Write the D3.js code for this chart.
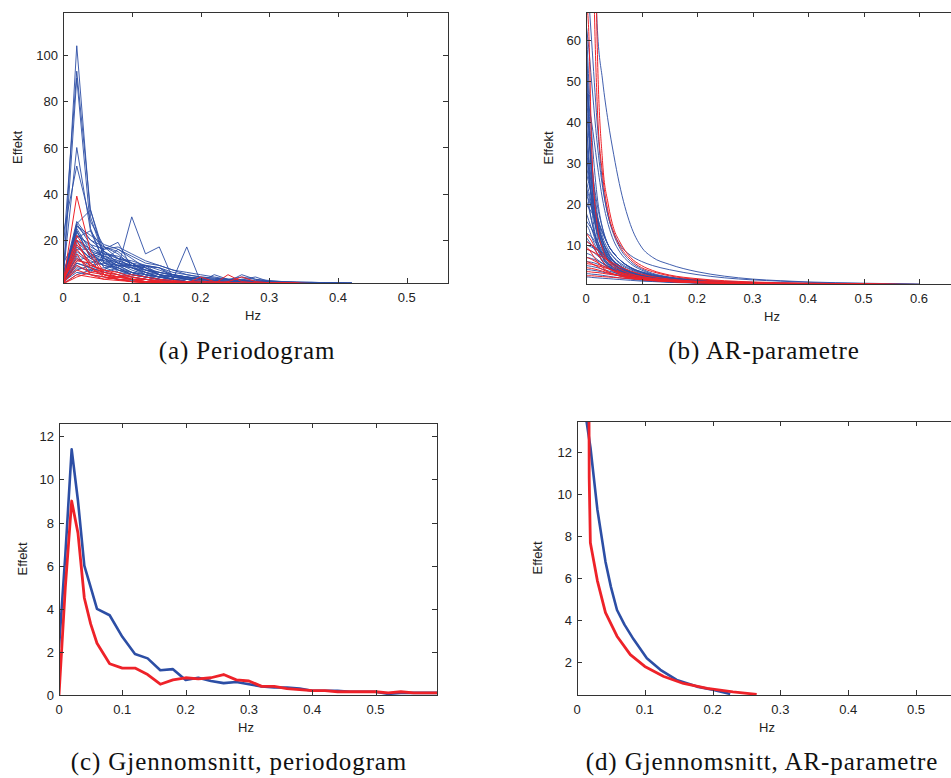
<!DOCTYPE html>
<html lang="no">
<head>
  <meta charset="UTF-8">
  <title>Periodogram og AR-parametre</title>
  <script src="https://d3js.org/d3.v7.min.js"></script>
  <style>
    body { margin: 0; background: #fff; }
    svg { display: block; }
    .tick-label { font-family: "Liberation Sans", Arial, sans-serif; font-size: 13px; fill: #222; }
    .axis-title { font-family: "Liberation Sans", Arial, sans-serif; font-size: 13px; fill: #222; }
    .caption { font-family: "Liberation Serif", "Times New Roman", serif; font-size: 25px; letter-spacing: 0.9px; fill: #111; }
  </style>
</head>
<body>
<svg width="951" height="778"></svg>
<script>
// ---------- (a) Periodogram: frekvensgitter og kurver ----------
const freqA = [0, 0.02, 0.04, 0.06, 0.08, 0.10, 0.12, 0.14, 0.16, 0.18, 0.20,
               0.22, 0.24, 0.26, 0.28, 0.30, 0.32, 0.34, 0.36, 0.38, 0.40, 0.42];

const periodBlue = [
  [2, 104, 30, 12, 6, 4, 3, 2, 2, 1.5, 1.5, 1.2, 1, 1, 0.8, 0.6, 0.5, 0.5, 0.4, 0.3, 0.3, 0.2],
  [14, 93, 33, 14, 8, 5, 4, 3, 2, 2, 1.5, 1.2, 1, 0.8, 0.6, 0.5, 0.4, 0.3, 0.3, 0.2, 0.2, 0.1],
  [1, 90, 25, 10, 9, 6, 4, 3, 2, 2, 1, 1, 1, 1, 0.8, 0.6, 0.5, 0.4, 0.3, 0.3, 0.2, 0.2],
  [4, 60, 24, 15, 10, 7, 5, 4, 3, 2, 1.5, 1, 1, 1, 0.8, 0.6, 0.5, 0.4, 0.3, 0.2, 0.2, 0.1],
  [22, 52, 28, 17, 12, 8, 6, 4, 3, 2, 1.5, 1.2, 1, 0.8, 0.6, 0.5, 0.4, 0.3, 0.3, 0.2, 0.2, 0.1],
  [1, 10, 8, 6, 8, 30, 14, 17, 3, 17, 2, 1.5, 1, 1, 0.8, 0.6, 0.5, 0.4, 0.3, 0.2, 0.2, 0.1],
  [2, 27, 33, 12, 7, 5, 4, 3, 2, 2, 1.5, 1, 1, 0.8, 0.6, 0.5, 0.4, 0.3, 0.2, 0.2, 0.1, 0.1],
  [3, 27, 18, 16, 19, 8, 6, 4, 3, 2, 2, 1.5, 1.2, 1, 0.8, 0.6, 0.5, 0.4, 0.3, 0.2, 0.2, 0.1],
  [1, 26, 20, 17, 14, 9, 9, 5, 3, 2, 2, 5, 3, 2, 1.8, 1.6, 1.5, 1.5, 1.4, 1.3, 1.2, 1.1],
  [2, 25, 15, 13, 10, 9, 8, 5, 4, 3, 2, 1.5, 2, 5, 3, 2, 1.5, 1.6, 1.5, 1.5, 1.4, 1.3],
  [5, 24, 12, 15, 12, 10, 7, 5, 4, 4, 3, 2, 1.5, 1.2, 1, 0.8, 0.6, 0.5, 0.4, 0.3, 0.2, 0.2],
  [2, 22, 18, 12, 9, 8, 5, 4, 3, 3, 2, 2, 1.5, 1.2, 1, 1, 0.8, 0.6, 0.5, 0.4, 0.3, 1.5],
  [10, 20, 14, 10, 8, 6, 5, 4, 3, 2, 2, 1.5, 1.2, 1, 0.8, 0.6, 0.5, 0.4, 0.3, 0.2, 0.2, 0.1],
  [3, 18, 12, 9, 8, 5, 4, 3, 3, 2, 1.5, 1.2, 1, 0.8, 0.6, 0.5, 0.4, 0.3, 0.2, 0.2, 0.1, 0.1],
  [2, 16, 16, 8, 6, 5, 4, 3, 2, 1.5, 1.2, 1, 0.8, 0.6, 0.5, 0.4, 0.3, 0.2, 0.2, 0.1, 0.1, 0.1],
  [1, 14, 10, 12, 9, 6, 4, 3, 2, 2, 1.5, 1, 0.8, 0.6, 0.5, 0.4, 0.3, 0.2, 0.2, 0.1, 0.1, 0.1],
  [4, 12, 9, 7, 11, 9, 5, 3, 2, 2, 1.5, 1.2, 1, 0.8, 0.6, 0.5, 0.4, 0.3, 0.2, 0.2, 0.1, 0.1],
  [2, 10, 8, 6, 5, 4, 3, 2.5, 2, 1.5, 1.2, 1, 0.8, 0.6, 0.5, 0.4, 0.3, 0.2, 0.2, 0.1, 0.1, 0.1],
  [1, 8, 7, 5, 4, 3, 3, 2, 2, 1.5, 1.2, 1, 0.8, 0.6, 0.5, 0.4, 0.3, 0.2, 0.2, 0.1, 0.1, 0.1],
  [2, 6, 5, 4, 3, 2.5, 2, 2, 1.5, 1.2, 1, 0.8, 0.6, 0.5, 0.4, 0.3, 0.2, 0.2, 0.1, 0.1, 0.1, 0.1],
  [1, 13, 7, 17, 15, 10, 7, 5, 3, 2, 1.5, 1.2, 1, 0.8, 0.6, 0.5, 0.4, 0.3, 0.2, 0.2, 0.1, 0.1],
  [3, 21, 24, 10, 7, 6, 5, 4, 5, 3, 2, 1.5, 1.2, 1, 0.8, 0.6, 0.5, 0.4, 0.3, 0.2, 0.2, 0.1],
  [2, 15, 11, 9, 7, 5, 9, 8, 4, 3, 2.5, 2, 1.5, 3, 4, 2, 1.5, 1.6, 1.8, 1.5, 1.4, 1.3],
  [1, 24, 13, 11, 16, 12, 8, 5, 4, 3, 2, 1.5, 1.2, 1, 0.8, 0.6, 0.5, 0.4, 0.3, 0.2, 0.2, 0.1],
  [2, 9, 6, 14, 13, 10, 6, 4, 3, 2, 1.5, 1.2, 1, 0.8, 0.6, 0.5, 0.4, 0.3, 0.2, 0.2, 0.1, 0.1],
  [2, 19, 14, 12, 10, 8, 6, 5, 4, 3.5, 3, 2.5, 2.2, 2, 2, 1.8, 1.7, 1.6, 1.5, 1.5, 1.4, 1.4],
  [1, 17, 12, 11, 9, 8, 7, 6, 5, 4, 3.5, 3, 2.8, 2.5, 2.2, 2, 1.8, 1.6, 1.5, 1.5, 1.3, 1.2],
  [3, 23, 17, 14, 12, 10, 9, 8, 6, 5, 4, 3.5, 3, 2.6, 2.2, 2, 1.8, 1.7, 1.6, 1.5, 1.4, 1.3],
  [2, 11, 13, 16, 17, 14, 11, 9, 7, 5, 4, 3.5, 3, 4, 3, 2.5, 2, 1.8, 1.6, 1.5, 1.4, 1.3],
  [1, 26, 22, 18, 16, 13, 10, 9, 7, 6, 5, 4, 3, 2.5, 2, 1.8, 1.6, 1.5, 1.5, 1.4, 1.3, 1.2],
  [2, 7, 9, 10, 12, 11, 9, 7, 5, 4, 3, 2.5, 2, 1.8, 1.6, 1.5, 1.5, 1.4, 1.3, 1.2, 1.1, 1],
  [4, 28, 20, 15, 10, 9, 8.5, 8, 5, 4, 3, 2.5, 2.2, 2, 1.8, 1.7, 1.6, 1.5, 1.4, 1.3, 1.2, 1.1],
  [1, 5, 7, 8, 9, 9, 8, 6, 4.5, 3.5, 3, 2.5, 2, 1.8, 1.6, 1.5, 1.4, 1.3, 1.2, 1.1, 1, 1],
  [6, 20, 16, 13, 11, 9, 7, 6, 5, 4, 3.5, 3, 2.5, 3, 2.5, 2.2, 2, 1.8, 1.6, 1.5, 1.4, 1.3]
];

const periodRed = [
  [1, 39, 15, 6, 4, 3, 2, 2, 1.5, 1.2, 1, 0.8, 0.6, 0.5, 0.4, 0.3, 0.2, 0.2, 0.1, 0.1, 0.1, 0.1],
  [2, 22, 13, 5, 3, 2, 2, 1.5, 1.2, 1, 0.8, 0.6, 0.5, 0.4, 0.3, 0.2, 0.2, 0.1, 0.1, 0.1, 0.1, 0.1],
  [1, 18, 10, 6, 5, 3, 3, 2, 1.5, 1.2, 4, 2, 1.5, 1, 0.8, 0.6, 0.5, 0.4, 0.3, 0.2, 0.1, 0.1],
  [3, 12, 8, 5, 4, 4, 3, 2, 2, 1.5, 1.2, 1, 5, 2, 1.5, 1, 0.8, 0.5, 0.4, 0.3, 0.2, 0.1],
  [1, 9, 6, 7, 5, 3, 2, 2, 1.5, 1.2, 1, 1.5, 2, 4, 2, 1.5, 1.6, 1.5, 0.5, 0.3, 0.2, 0.1],
  [2, 7, 5, 4, 3, 3, 2, 1.5, 1.2, 1, 0.8, 0.6, 0.5, 0.4, 0.3, 0.2, 0.2, 0.1, 0.1, 0.1, 0.1, 0.1],
  [1, 5, 4, 3, 4, 3, 2, 2, 1.5, 1, 0.8, 0.6, 0.5, 0.4, 0.3, 0.2, 0.2, 0.1, 0.1, 0.1, 0.1, 0.1],
  [2, 20, 8, 4, 3, 2, 1.5, 1.2, 1, 0.8, 0.6, 0.5, 0.4, 0.3, 0.2, 0.2, 0.1, 0.1, 0.1, 0.1, 0.1, 0.1],
  [1, 4, 6, 5, 3, 2, 2, 1.5, 1.2, 1, 0.8, 0.6, 0.5, 0.4, 0.3, 0.2, 0.2, 0.1, 0.1, 0.1, 0.1, 0.1],
  [3, 14, 5, 3, 2.5, 2, 1.5, 1.2, 1, 0.8, 0.6, 0.5, 0.4, 0.3, 0.2, 0.2, 0.1, 0.1, 0.1, 0.1, 0.1, 0.1],
  [2, 16, 9, 7, 6, 4, 3, 2.5, 2, 1.8, 1.6, 1.5, 1.4, 1.3, 1.2, 1.1, 1, 1, 0.9, 0.8, 0.8, 0.7],
  [1, 11, 10, 5, 4, 5, 4, 3, 2.5, 2, 2.2, 1.8, 1.6, 1.5, 1.5, 1.6, 1.5, 1.4, 1.2, 1, 0.9, 0.8]
];

// ---------- (b) AR-parametre ----------
const freqB = [0, 0.005, 0.01, 0.02, 0.03, 0.04, 0.05, 0.06, 0.08, 0.10,
               0.12, 0.15, 0.20, 0.25, 0.30, 0.35, 0.40, 0.50, 0.60];

const arBlue = [
  [300, 200, 130, 64, 50, 40, 32, 25, 15, 9.5, 7, 5.3, 3.5, 2.4, 1.7, 1.3, 1.0, 0.7, 0.45],
  [80, 70, 60, 40, 25, 17, 13, 10.3, 7.5, 6, 5, 4, 2.8, 2, 1.5, 1.2, 0.9, 0.6, 0.4],
  [66, 50, 38, 22, 14, 10, 8, 6.5, 4.5, 3.4, 2.7, 2.0, 1.4, 1.0, 0.8, 0.7, 0.6, 0.5, 0.4],
  [62, 45, 32, 18, 12, 9, 7, 5.5, 4, 3, 2.4, 1.8, 1.2, 0.9, 0.7, 0.6, 0.5, 0.4, 0.3],
  [55, 40, 28, 16, 11, 8, 6, 5, 3.5, 2.6, 2, 1.5, 1.1, 0.8, 0.6, 0.5, 0.4, 0.3, 0.3],
  [50, 38, 30, 20, 14, 10, 8, 6.5, 4.5, 3.5, 2.8, 2.1, 1.5, 1.1, 0.9, 0.7, 0.6, 0.5, 0.4],
  [45, 36, 28, 17, 11, 8, 6, 4.8, 3.3, 2.5, 2, 1.5, 1, 0.8, 0.6, 0.5, 0.4, 0.3, 0.3],
  [40, 32, 25, 15, 10, 7.5, 6, 5, 3.6, 2.8, 2.2, 1.6, 1.1, 0.8, 0.6, 0.5, 0.4, 0.3, 0.3],
  [36, 30, 24, 16, 11, 8.5, 7, 5.8, 4.2, 3.2, 2.5, 1.9, 1.3, 1, 0.8, 0.6, 0.5, 0.4, 0.3],
  [33, 27, 21, 13, 9, 7, 5.5, 4.5, 3.2, 2.4, 1.9, 1.4, 1, 0.7, 0.6, 0.5, 0.4, 0.3, 0.2],
  [30, 26, 22, 15, 10, 7, 5.5, 4.3, 3, 2.3, 1.8, 1.3, 0.9, 0.7, 0.5, 0.4, 0.4, 0.3, 0.2],
  [28, 25, 22, 17, 13, 10, 8, 6.5, 4.6, 3.4, 2.6, 1.9, 1.3, 0.9, 0.7, 0.6, 0.5, 0.4, 0.3],
  [26, 23, 20, 14, 10, 7.5, 6, 4.8, 3.4, 2.6, 2, 1.5, 1, 0.8, 0.6, 0.5, 0.4, 0.3, 0.2],
  [24, 22, 19, 13, 9, 6.5, 5, 4, 2.8, 2.1, 1.7, 1.3, 0.9, 0.7, 0.5, 0.4, 0.4, 0.3, 0.2],
  [22, 21, 19, 15, 11, 8, 6.2, 5, 3.5, 2.6, 2, 1.5, 1, 0.8, 0.6, 0.5, 0.4, 0.3, 0.2],
  [21, 19, 16, 11, 8, 6, 4.8, 4, 2.9, 2.2, 1.7, 1.3, 0.9, 0.7, 0.5, 0.4, 0.4, 0.3, 0.2],
  [20, 19, 18, 16, 13, 10, 8, 6.5, 4.5, 3.3, 2.5, 1.8, 1.2, 0.9, 0.7, 0.6, 0.5, 0.4, 0.3],
  [18, 16, 14, 10, 7.5, 5.5, 4.4, 3.6, 2.6, 2, 1.6, 1.2, 0.9, 0.7, 0.5, 0.4, 0.4, 0.3, 0.2],
  [16, 15, 14, 11, 8.5, 6.5, 5.2, 4.3, 3.1, 2.4, 1.9, 1.4, 1, 0.7, 0.6, 0.5, 0.4, 0.3, 0.2],
  [15, 14, 12, 9, 7, 5.5, 4.5, 3.8, 2.8, 2.2, 1.8, 1.4, 1, 0.8, 0.6, 0.5, 0.4, 0.3, 0.3],
  [13, 12.5, 12, 10, 8, 6.5, 5.3, 4.4, 3.2, 2.5, 2, 1.5, 1.1, 0.8, 0.6, 0.5, 0.4, 0.3, 0.3],
  [12, 11, 10, 8, 6, 4.8, 4, 3.4, 2.5, 2, 1.6, 1.2, 0.9, 0.7, 0.5, 0.4, 0.4, 0.3, 0.2],
  [11, 10.5, 10, 9, 7.5, 6.2, 5.2, 4.4, 3.3, 2.6, 2.1, 1.6, 1.1, 0.8, 0.6, 0.5, 0.4, 0.3, 0.3],
  [9, 8.8, 8.5, 7.5, 6.3, 5.3, 4.5, 3.8, 2.9, 2.3, 1.9, 1.5, 1.1, 0.8, 0.6, 0.5, 0.4, 0.3, 0.3],
  [8, 7.8, 7.5, 6.5, 5.5, 4.6, 3.9, 3.3, 2.5, 2, 1.6, 1.3, 0.9, 0.7, 0.6, 0.5, 0.4, 0.3, 0.2],
  [7, 6.9, 6.7, 6.2, 5.5, 4.8, 4.2, 3.6, 2.8, 2.2, 1.8, 1.4, 1, 0.8, 0.6, 0.5, 0.4, 0.3, 0.3],
  [6, 5.9, 5.8, 5.4, 4.9, 4.4, 3.9, 3.4, 2.6, 2.1, 1.7, 1.3, 1, 0.8, 0.6, 0.5, 0.4, 0.3, 0.3],
  [5, 4.9, 4.8, 4.5, 4.1, 3.7, 3.3, 2.9, 2.3, 1.9, 1.6, 1.3, 1, 0.8, 0.6, 0.5, 0.4, 0.3, 0.3],
  [4, 4, 3.9, 3.7, 3.4, 3.1, 2.8, 2.5, 2, 1.7, 1.4, 1.1, 0.8, 0.6, 0.5, 0.4, 0.4, 0.3, 0.2],
  [3, 3, 2.9, 2.8, 2.6, 2.4, 2.2, 2, 1.7, 1.4, 1.2, 1, 0.8, 0.6, 0.5, 0.4, 0.4, 0.3, 0.2],
  [2.2, 2.2, 2.1, 2, 1.9, 1.8, 1.7, 1.6, 1.4, 1.2, 1.1, 0.9, 0.7, 0.6, 0.5, 0.4, 0.4, 0.3, 0.2],
  [10, 9.8, 9.5, 8.8, 8, 7, 6, 5, 3.5, 2.5, 1.9, 1.4, 1, 0.8, 0.6, 0.5, 0.4, 0.3, 0.2],
  [64, 58, 50, 35, 24, 17, 12.5, 9.5, 6, 4.2, 3.1, 2.2, 1.5, 1.1, 0.9, 0.7, 0.6, 0.5, 0.4],
  [48, 44, 40, 30, 21, 15, 11, 8.5, 5.5, 3.9, 2.9, 2.1, 1.4, 1, 0.8, 0.7, 0.6, 0.5, 0.4],
  [58, 42, 26, 12, 7, 5, 3.8, 3, 2.2, 1.7, 1.4, 1.1, 0.8, 0.6, 0.5, 0.4, 0.4, 0.3, 0.2],
  [44, 30, 20, 10, 6, 4.3, 3.4, 2.8, 2, 1.6, 1.3, 1, 0.8, 0.6, 0.5, 0.4, 0.4, 0.3, 0.2],
  [35, 28, 22, 14, 9.5, 7, 5.4, 4.3, 3, 2.3, 1.8, 1.4, 1, 0.8, 0.6, 0.5, 0.4, 0.3, 0.2],
  [25, 20, 16, 10, 7, 5.2, 4.1, 3.4, 2.4, 1.9, 1.5, 1.2, 0.9, 0.7, 0.5, 0.4, 0.4, 0.3, 0.2]
];

const arRed = [
  [500, 300, 200, 60, 30, 20, 14, 11, 7, 5, 3.8, 2.7, 1.8, 1.3, 1, 0.8, 0.7, 0.5, 0.4],
  [400, 250, 120, 45, 27, 18, 13, 10, 6.5, 4.5, 3.5, 2.5, 1.6, 1.1, 0.8, 0.7, 0.6, 0.4, 0.3],
  [70, 62, 35, 15, 9, 6, 4.5, 3.5, 2.5, 2, 1.5, 1.2, 0.9, 0.7, 0.6, 0.5, 0.45, 0.35, 0.3],
  [13, 12, 11, 8, 6, 4.5, 3.6, 3, 2.2, 1.7, 1.4, 1.1, 0.8, 0.6, 0.5, 0.4, 0.4, 0.3, 0.2],
  [11, 10.5, 10, 9, 7.5, 6.2, 5, 4.2, 3, 2.3, 1.8, 1.3, 0.9, 0.7, 0.5, 0.4, 0.4, 0.3, 0.2],
  [9, 8.8, 8.5, 7.8, 7, 6.2, 5.5, 4.8, 3.7, 2.9, 2.3, 1.7, 1.2, 0.9, 0.7, 0.6, 0.5, 0.4, 0.3],
  [7, 6.8, 6.5, 5.8, 5, 4.3, 3.7, 3.2, 2.5, 2, 1.7, 1.4, 1, 0.8, 0.7, 0.6, 0.5, 0.4, 0.3],
  [5.5, 5.4, 5.3, 5, 4.6, 4.2, 3.8, 3.4, 2.8, 2.3, 1.9, 1.5, 1.1, 0.9, 0.7, 0.6, 0.5, 0.4, 0.3],
  [4.5, 4.4, 4.3, 4, 3.6, 3.2, 2.9, 2.6, 2.1, 1.7, 1.5, 1.2, 0.9, 0.8, 0.7, 0.6, 0.5, 0.45, 0.3],
  [3.5, 3.5, 3.4, 3.3, 3.1, 2.9, 2.7, 2.5, 2.1, 1.8, 1.6, 1.3, 1, 0.8, 0.7, 0.6, 0.55, 0.5, 0.3],
  [2.5, 2.5, 2.5, 2.4, 2.3, 2.2, 2.1, 2, 1.8, 1.6, 1.4, 1.2, 1, 0.85, 0.75, 0.65, 0.6, 0.5, 0.3],
  [9.5, 9, 8, 6, 4.5, 3.5, 2.9, 2.5, 1.9, 1.6, 1.3, 1.1, 0.8, 0.7, 0.6, 0.5, 0.45, 0.4, 0.3],
  [6, 5.8, 5.5, 4.8, 4, 3.4, 2.9, 2.5, 2, 1.6, 1.4, 1.1, 0.9, 0.75, 0.65, 0.6, 0.55, 0.5, 0.3]
];

// ---------- (c) Gjennomsnitt, periodogram ----------
const freqC = [0, 0.01, 0.02, 0.03, 0.04, 0.05, 0.06, 0.08, 0.10, 0.12, 0.14, 0.16, 0.18,
               0.20, 0.22, 0.24, 0.26, 0.28, 0.30, 0.32, 0.34, 0.36, 0.38, 0.40, 0.42,
               0.44, 0.46, 0.48, 0.50, 0.52, 0.54, 0.56, 0.58, 0.60];
const meanPeriodBlue = [2.2, 6.5, 11.4, 9.0, 6.0, 5.0, 4.0, 3.7, 2.7, 1.9, 1.7, 1.15, 1.2,
                        0.7, 0.8, 0.65, 0.55, 0.6, 0.5, 0.4, 0.35, 0.35, 0.3, 0.2, 0.2,
                        0.2, 0.15, 0.15, 0.15, 0.05, 0.1, 0.1, 0.1, 0.1];
const meanPeriodRed = [0, 5.0, 9.0, 7.5, 4.5, 3.3, 2.4, 1.45, 1.25, 1.25, 0.95, 0.5, 0.7,
                       0.8, 0.75, 0.8, 0.95, 0.7, 0.65, 0.4, 0.4, 0.3, 0.25, 0.2, 0.2,
                       0.15, 0.15, 0.15, 0.15, 0.1, 0.15, 0.1, 0.1, 0.1];

// ---------- (d) Gjennomsnitt, AR-parametre ----------
const freqDBlue = [0.010, 0.014, 0.020, 0.030, 0.042, 0.050, 0.059, 0.070, 0.0835,
                   0.103, 0.123, 0.147, 0.177, 0.200, 0.226];
const meanArBlue = [17, 13.5, 12.2, 9.3, 6.8, 5.6, 4.5, 3.8, 3.1, 2.2, 1.65, 1.17, 0.85, 0.7, 0.5];
const freqDRed = [0.0175, 0.018, 0.0197, 0.030, 0.042, 0.059, 0.0786, 0.100, 0.128,
                  0.157, 0.192, 0.230, 0.265];
const meanArRed = [16, 10.8, 7.7, 5.9, 4.37, 3.25, 2.37, 1.81, 1.33, 1.0, 0.77, 0.6, 0.48];

const BLUE = "#2c4ea5";
const RED = "#ee2229";

const svg = d3.select("svg");

function pairs(xs, ys) {
  return ys.map((v, i) => [xs[i], v]);
}

function panel(o) {
  const x = d3.scaleLinear().domain(o.xDomain).range([o.left, o.right]);
  const y = d3.scaleLinear().domain(o.yDomain).range([o.bottom, o.top]);
  const g = svg.append("g");

  const clipId = "clip-" + o.id;
  g.append("clipPath").attr("id", clipId)
    .append("rect")
    .attr("x", o.left).attr("y", o.top)
    .attr("width", o.right - o.left).attr("height", o.bottom - o.top);

  const line = d3.line()
    .x(d => x(d[0]))
    .y(d => y(d[1]))
    .curve(o.curve || d3.curveLinear);

  const lines = g.append("g").attr("clip-path", `url(#${clipId})`);
  o.series.forEach(s => {
    lines.append("path")
      .attr("d", line(s.points))
      .attr("fill", "none")
      .attr("stroke", s.color)
      .attr("stroke-width", s.width)
      .attr("stroke-linejoin", "round")
      .attr("stroke-opacity", s.opacity || 1);
  });

  // box with inward ticks on all sides (matlab style)
  const tl = 5;
  const ax = g.append("g").attr("stroke", "#333").attr("stroke-width", 1).attr("fill", "none");
  ax.append("rect")
    .attr("x", o.left + 0.5).attr("y", o.top + 0.5)
    .attr("width", o.right - o.left).attr("height", o.bottom - o.top);
  o.xTicks.forEach(t => {
    const px = Math.round(x(t)) + 0.5;
    ax.append("line").attr("x1", px).attr("x2", px).attr("y1", o.bottom).attr("y2", o.bottom - tl);
    ax.append("line").attr("x1", px).attr("x2", px).attr("y1", o.top).attr("y2", o.top + tl);
  });
  o.yTicks.forEach(t => {
    const py = Math.round(y(t)) + 0.5;
    ax.append("line").attr("x1", o.left).attr("x2", o.left + tl).attr("y1", py).attr("y2", py);
    ax.append("line").attr("x1", o.right).attr("x2", o.right - tl).attr("y1", py).attr("y2", py);
  });

  g.selectAll(".xt").data(o.xTicks).join("text")
    .attr("class", "tick-label")
    .attr("x", d => x(d))
    .attr("y", o.bottom + 19)
    .attr("text-anchor", "middle")
    .text(d => d3.format("~g")(d));
  g.selectAll(".yt").data(o.yTicks).join("text")
    .attr("class", "tick-label")
    .attr("x", o.left - 5)
    .attr("y", d => y(d) + 5)
    .attr("text-anchor", "end")
    .text(d => d);

  g.append("text").attr("class", "axis-title")
    .attr("x", o.hzX).attr("y", o.bottom + 37)
    .attr("text-anchor", "middle").text("Hz");
  g.append("text").attr("class", "axis-title")
    .attr("transform", `translate(${o.effX},${(o.top + o.bottom) / 2}) rotate(-90)`)
    .attr("text-anchor", "middle").text("Effekt");

  g.append("text").attr("class", "caption")
    .attr("x", o.capX).attr("y", o.capY)
    .attr("text-anchor", "middle").text(o.caption);
}

const seriesA = periodBlue.map(v => ({ points: pairs(freqA, v), color: BLUE, width: 1, opacity: 0.9 }))
  .concat(periodRed.map(v => ({ points: pairs(freqA, v), color: RED, width: 1 })));

const seriesB = arBlue.map(v => ({ points: pairs(freqB, v), color: BLUE, width: 1, opacity: 0.9 }))
  .concat(arRed.map(v => ({ points: pairs(freqB, v), color: RED, width: 1 })));

panel({
  id: "a", left: 63, right: 448, top: 12, bottom: 283,
  xDomain: [0, 0.56], yDomain: [1.4, 118.6],
  xTicks: [0, 0.1, 0.2, 0.3, 0.4, 0.5], yTicks: [20, 40, 60, 80, 100],
  series: seriesA, hzX: 253, effX: 22,
  caption: "(a)  Periodogram", capX: 247, capY: 359
});

panel({
  id: "b", left: 586, right: 960, top: 12, bottom: 284,
  xDomain: [0, (960 - 586) / 555], yDomain: [0.5, 66.8],
  xTicks: [0, 0.1, 0.2, 0.3, 0.4, 0.5, 0.6], yTicks: [10, 20, 30, 40, 50, 60],
  series: seriesB, curve: d3.curveMonotoneX, hzX: 772, effX: 553,
  caption: "(b)  AR-parametre", capX: 764, capY: 359
});

panel({
  id: "c", left: 59, right: 437, top: 423, bottom: 695,
  xDomain: [0, 0.597], yDomain: [0, 12.62],
  xTicks: [0, 0.1, 0.2, 0.3, 0.4, 0.5], yTicks: [0, 2, 4, 6, 8, 10, 12],
  series: [
    { points: pairs(freqC, meanPeriodBlue), color: BLUE, width: 2.6 },
    { points: pairs(freqC, meanPeriodRed), color: RED, width: 2.8 }
  ],
  hzX: 246, effX: 27,
  caption: "(c)  Gjennomsnitt, periodogram", capX: 239, capY: 770
});

panel({
  id: "d", left: 577, right: 960, top: 421, bottom: 695,
  xDomain: [0, (960 - 577) / 678], yDomain: [0.45, 13.5],
  xTicks: [0, 0.1, 0.2, 0.3, 0.4, 0.5], yTicks: [2, 4, 6, 8, 10, 12],
  series: [
    { points: pairs(freqDBlue, meanArBlue), color: BLUE, width: 2.6 },
    { points: pairs(freqDRed, meanArRed), color: RED, width: 2.8 }
  ],
  hzX: 767, effX: 542,
  caption: "(d)  Gjennomsnitt, AR-parametre", capX: 762, capY: 770
});
</script>
</body>
</html>
